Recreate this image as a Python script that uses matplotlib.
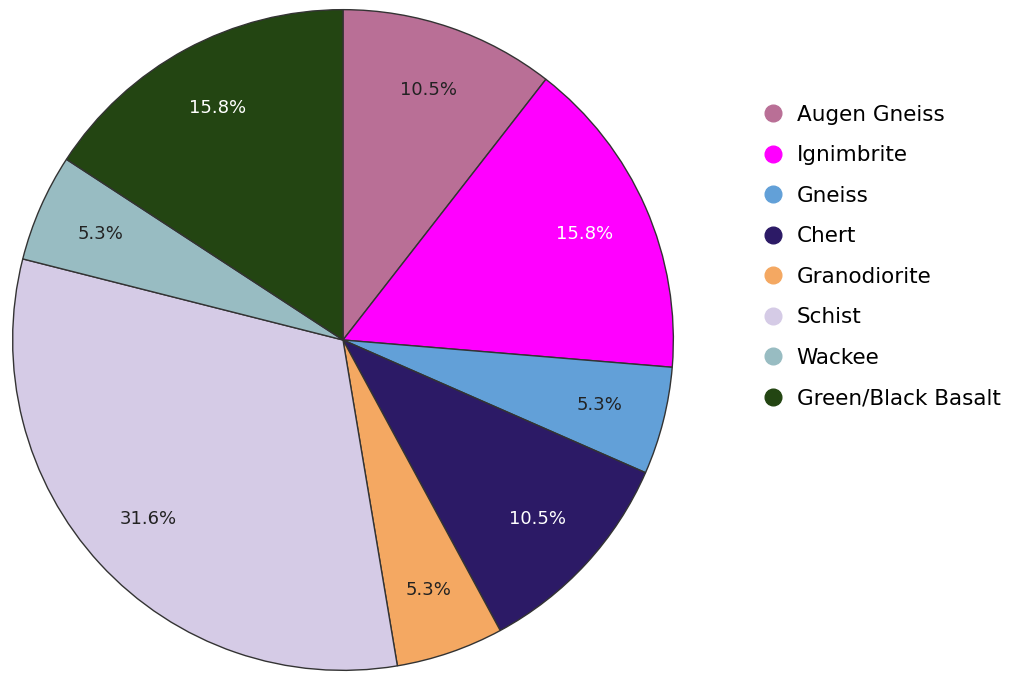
import matplotlib.pyplot as plt
from matplotlib.lines import Line2D

rocks = ["Augen Gneiss", "Ignimbrite", "Gneiss", "Chert", "Granodiorite",
         "Schist", "Wackee", "Green/Black Basalt"]
counts = [2, 3, 1, 2, 1, 6, 1, 3]
colors = ["#b96f96", "#ff00ff", "#62a0d8", "#2c1a66", "#f4a862",
          "#d5cbe6", "#98bcc2", "#234512"]
text_colors = ["#222222", "white", "#222222", "white", "#222222",
               "#222222", "#222222", "white"]

fig = plt.figure(figsize=(10.21, 6.74), dpi=100)
ax = fig.add_axes([11 / 1021, 2 / 674, 664 / 1021, 664 / 674])

wedges, texts, autotexts = ax.pie(
    counts, colors=colors, startangle=90, counterclock=False,
    autopct="%.1f%%", pctdistance=0.8,
    wedgeprops=dict(edgecolor="#333333", linewidth=1.0),
    textprops=dict(fontsize=13))
for t, c in zip(autotexts, text_colors):
    t.set_color(c)
ax.set_xlim(-1.005, 1.005)
ax.set_ylim(-1.005, 1.005)
ax.set_aspect("equal")

handles = [Line2D([], [], marker="o", linestyle="", markersize=12,
                  markerfacecolor=c, markeredgecolor=c) for c in colors]
fig.legend(handles, rocks, loc="upper left", bbox_to_anchor=(760 / 1021, 1 - 105 / 674),
           frameon=False, fontsize=15.5, labelspacing=0.95, handletextpad=0.5,
           handlelength=1.2, borderaxespad=0, borderpad=0)

fig.savefig("out.png", dpi=100)
